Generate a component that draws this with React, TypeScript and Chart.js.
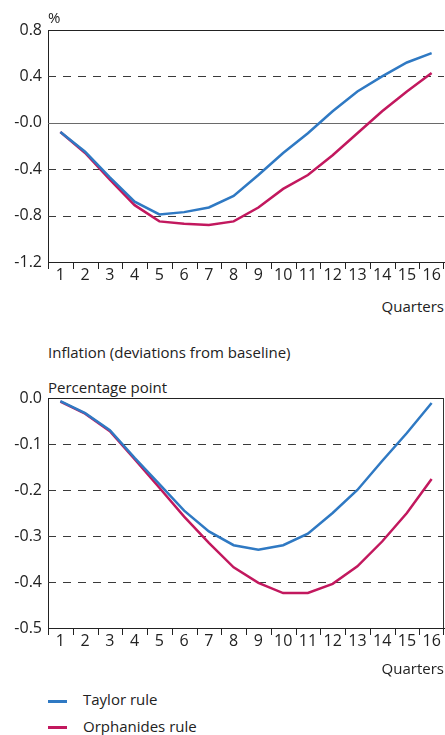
import React, { useEffect, useRef } from "react";
import { Chart, registerables } from "chart.js";

Chart.register(...registerables);

const quarters = ["1", "2", "3", "4", "5", "6", "7", "8", "9", "10", "11", "12", "13", "14", "15", "16"];
const seriesNames = ["Taylor rule", "Orphanides rule"];

const outputTaylor = [-0.08, -0.25, -0.47, -0.68, -0.79, -0.77, -0.73, -0.63, -0.45, -0.26, -0.09, 0.1, 0.27, 0.4, 0.52, 0.6];
const outputOrphanides = [-0.08, -0.26, -0.49, -0.71, -0.85, -0.87, -0.88, -0.85, -0.73, -0.57, -0.45, -0.28, -0.09, 0.1, 0.27, 0.43];

const inflationTaylor = [-0.007, -0.033, -0.07, -0.13, -0.187, -0.245, -0.29, -0.32, -0.33, -0.32, -0.295, -0.25, -0.2, -0.137, -0.076, -0.011];
const inflationOrphanides = [-0.008, -0.034, -0.072, -0.133, -0.195, -0.258, -0.315, -0.368, -0.402, -0.424, -0.424, -0.404, -0.366, -0.312, -0.25, -0.176];

const outputYLabels = ["-1.2", "-0.8", "-0.4", "-0.0", "0.4", "0.8"];
const inflationYLabels = ["-0.5", "-0.4", "-0.3", "-0.2", "-0.1", "0.0"];

const outputUnit = "%";
const inflationTitle = "Inflation (deviations from baseline)";
const inflationUnit = "Percentage point";
const xTitle = "Quarters";

const BLUE = "#2f79c3";
const RED = "#c2185e";
const FONT = "'Open Sans', sans-serif";
const TICK_FONT_SIZE = 16;

type Cfg = {
  taylor: number[];
  orph: number[];
  min: number;
  max: number;
  step: number;
  labels: string[];
  zeroSolid: boolean;
  rightBorder: boolean;
  padTop: number;
  xHeight: number;
  width: number;
  height: number;
};

const gridPlugin = (cfg: Cfg) => ({
  id: "customGrid" + cfg.min,
  beforeDatasetsDraw(chart: any) {
    const { ctx, chartArea } = chart;
    const y = chart.scales.y;
    ctx.save();
    y.ticks.forEach((t: any) => {
      const v = t.value;
      if (Math.abs(v - cfg.min) < 1e-9) return;
      const py = Math.round(y.getPixelForValue(v)) + 0.5;
      ctx.beginPath();
      if (Math.abs(v - cfg.max) < 1e-9) {
        ctx.setLineDash([]);
        ctx.strokeStyle = "#222";
      } else if (Math.abs(v) < 1e-9 && cfg.zeroSolid) {
        ctx.setLineDash([]);
        ctx.strokeStyle = "#6a6a6a";
      } else {
        ctx.setLineDash([8, 7]);
        ctx.strokeStyle = "#3a3a3a";
      }
      ctx.lineWidth = 1;
      ctx.moveTo(chartArea.left, py);
      ctx.lineTo(chartArea.right, py);
      ctx.stroke();
    });
    if (cfg.rightBorder) {
      ctx.setLineDash([]);
      ctx.strokeStyle = "#333";
      ctx.beginPath();
      const px = Math.round(chartArea.right) - 0.5;
      ctx.moveTo(px, chartArea.top);
      ctx.lineTo(px, chartArea.bottom);
      ctx.stroke();
    }
    ctx.restore();
  },
  afterDraw(chart: any) {
    const { ctx, chartArea } = chart;
    const x = chart.scales.x;
    const n = quarters.length;
    const bounds: number[] = [chartArea.left];
    for (let i = 0; i < n - 1; i++) {
      bounds.push((x.getPixelForTick(i) + x.getPixelForTick(i + 1)) / 2);
    }
    bounds.push(chartArea.right - 1);
    ctx.save();
    ctx.setLineDash([]);
    ctx.strokeStyle = "#222";
    ctx.lineWidth = 1;
    ctx.beginPath();
    bounds.forEach((b) => {
      const px = Math.round(b) + 0.5;
      ctx.moveTo(px, chartArea.bottom);
      ctx.lineTo(px, chartArea.bottom + 7);
    });
    ctx.stroke();
    ctx.restore();
  },
});

function LineChart({ cfg }: { cfg: Cfg }) {
  const ref = useRef<HTMLCanvasElement>(null);
  useEffect(() => {
    if (!ref.current) return;
    const chart = new Chart(ref.current, {
      type: "line",
      data: {
        labels: quarters,
        datasets: [
          { label: seriesNames[0], data: cfg.taylor, borderColor: BLUE, borderWidth: 2.5, pointRadius: 0, tension: 0, fill: false },
          { label: seriesNames[1], data: cfg.orph, borderColor: RED, borderWidth: 2.5, pointRadius: 0, tension: 0, fill: false },
        ],
      },
      options: {
        responsive: false,
        animation: false,
        events: [],
        layout: { padding: { top: cfg.padTop, right: 1, left: 0, bottom: 0 } },
        plugins: { legend: { display: false }, tooltip: { enabled: false }, title: { display: false } },
        scales: {
          x: {
            type: "category",
            offset: true,
            grid: { display: false, drawTicks: false },
            border: { display: true, color: "#222", width: 1 },
            ticks: { autoSkip: false, maxRotation: 0, padding: 4, color: "#222", font: { family: FONT, size: TICK_FONT_SIZE } },
            afterFit: (s: any) => { s.height = cfg.xHeight; },
          },
          y: {
            min: cfg.min,
            max: cfg.max,
            grid: { display: false, drawTicks: false },
            border: { display: true, color: "#222", width: 1 },
            ticks: {
              stepSize: cfg.step,
              padding: 6,
              color: "#222",
              font: { family: FONT, size: TICK_FONT_SIZE },
              callback: (_v: any, i: number) => cfg.labels[i],
            },
            afterFit: (s: any) => { s.width = 48; },
          },
        },
      },
      plugins: [gridPlugin(cfg)],
    } as any);
    return () => chart.destroy();
  }, [cfg]);
  return <canvas ref={ref} width={cfg.width} height={cfg.height} style={{ width: cfg.width, height: cfg.height, display: "block" }} />;
}

const outputCfg: Cfg = {
  taylor: outputTaylor, orph: outputOrphanides, min: -1.2, max: 0.8, step: 0.4, labels: outputYLabels,
  zeroSolid: true, rightBorder: false, padTop: 30, xHeight: 28, width: 445, height: 290,
};
const inflationCfg: Cfg = {
  taylor: inflationTaylor, orph: inflationOrphanides, min: -0.5, max: 0, step: 0.1, labels: inflationYLabels,
  zeroSolid: false, rightBorder: true, padTop: 28, xHeight: 32, width: 445, height: 290,
};

const txt = (s: string, left: number, top: number, size: number, extra: any = {}) => (
  <div style={{ position: "absolute", left, top, fontSize: size, lineHeight: `${size}px`, whiteSpace: "nowrap", color: "#222", ...extra }}>{s}</div>
);

export default function App() {
  return (
    <div style={{ position: "fixed", left: 0, top: 0, width: 445, height: 735, overflow: "hidden", background: "#fff", fontFamily: FONT }}>
      <div style={{ position: "absolute", left: 0, top: 0 }}>
        <LineChart cfg={outputCfg} />
      </div>
      {txt(outputUnit, 48, 10, 15)}
      {txt(xTitle, 0, 299, 15, { right: 1, left: "auto", textAlign: "right" })}
      {txt(inflationTitle, 48, 345, 15)}
      {txt(inflationUnit, 48, 380, 15)}
      <div style={{ position: "absolute", left: 0, top: 370 }}>
        <LineChart cfg={inflationCfg} />
      </div>
      {txt(xTitle, 0, 661, 15, { right: 1, left: "auto", textAlign: "right" })}
      <div style={{ position: "absolute", left: 48, top: 700, width: 19, height: 3, background: BLUE }} />
      {txt(seriesNames[0], 83, 692, 15)}
      <div style={{ position: "absolute", left: 48, top: 726, width: 19, height: 3, background: RED }} />
      {txt(seriesNames[1], 83, 719, 15)}
    </div>
  );
}
